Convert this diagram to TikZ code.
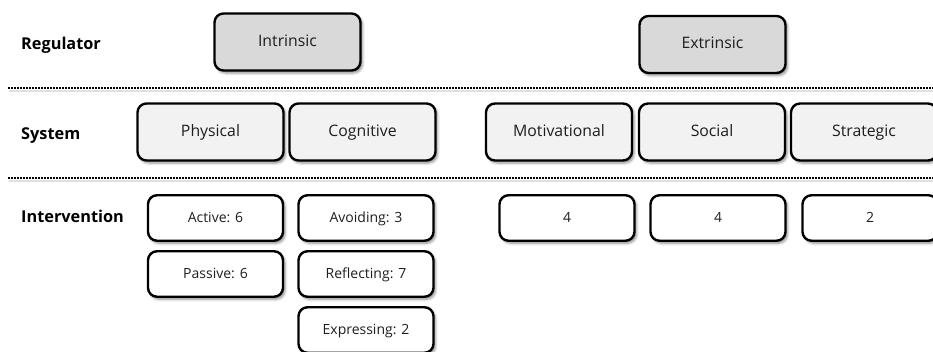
\documentclass[tikz,border=0pt]{standalone}
\usepackage{fontspec}
\setmainfont{Open Sans}
\usetikzlibrary{shadows.blur}
\definecolor{regfill}{HTML}{D9D9D9}
\definecolor{sysfill}{HTML}{F2F2F2}
\definecolor{txt}{HTML}{1E1E1E}
\tikzset{
  card/.style={draw=black, line width=2.4pt, rounded corners=9pt,
    text=txt, inner sep=0pt, align=center, text height=0.84em, text depth=0pt,
    blur shadow={shadow xshift=2pt, shadow yshift=-2.5pt,
      shadow blur radius=2.5pt, shadow opacity=45}},
  regbox/.style={card, fill=regfill, minimum width=146pt, minimum height=57pt,
    font=\fontsize{15.8}{18}\selectfont},
  sysbox/.style={card, fill=sysfill, minimum width=146pt, minimum height=57pt,
    font=\fontsize{15.8}{18}\selectfont},
  intbox/.style={card, fill=white, minimum width=135pt, minimum height=45.5pt,
    font=\fontsize{14}{16}\selectfont},
  rowlabel/.style={anchor=base west, inner sep=0pt, text=black,
    font=\fontsize{16.3}{19}\selectfont\bfseries},
  separator/.style={line width=2.3pt, dash pattern=on 1.5pt off 1.5pt, draw=black},
  sepshade/.style={line width=2pt, draw=black, opacity=0.12}
}
\begin{document}
\begin{tikzpicture}[x=1pt, y=-1pt]
  \useasboundingbox (0,0) rectangle (933,351);
  \clip (0,0) rectangle (933,351);

  % row headings
  \node[rowlabel] (lab-reg) at (21,49)  {Regulator};
  \node[rowlabel] (lab-sys) at (21,139) {System};
  \node[rowlabel] (lab-int) at (21,222) {Intervention};

  % dotted row separators with a faint shade beneath
  \draw[sepshade] (9,90.5)  -- (933,90.5);
  \draw[sepshade] (9,180.5) -- (933,180.5);
  \draw[separator] (8,88)  -- (933,88);
  \draw[separator] (8,178) -- (933,178);

  % regulator row
  \node[regbox] (reg-in) at (287.5,42) {Intrinsic};
  \node[regbox] (reg-ex) at (712.5,44.5) {Extrinsic};

  % system row
  \node[sysbox] (sys-phy) at (210.5,132) {Physical};
  \node[sysbox] (sys-cog) at (362.5,132) {Cognitive};
  \node[sysbox] (sys-mot) at (559,132)   {Motivational};
  \node[sysbox] (sys-soc) at (712,132)   {Social};
  \node[sysbox] (sys-str) at (864,132)   {Strategic};

  % intervention row
  \node[intbox] (int-act) at (215.5,218) {Active: 6};
  \node[intbox] (int-pas) at (215.5,274) {Passive: 6};
  \node[intbox] (int-avo) at (366,218)   {Avoiding: 3};
  \node[intbox] (int-ref) at (366,274)   {Reflecting: 7};
  \node[intbox] (int-exp) at (366,330)   {Expressing: 2};
  \node[intbox] (int-mot) at (567,218)   {4};
  \node[intbox] (int-soc) at (718,218)   {4};
  \node[intbox] (int-str) at (870,218)   {2};
\end{tikzpicture}
\end{document}
